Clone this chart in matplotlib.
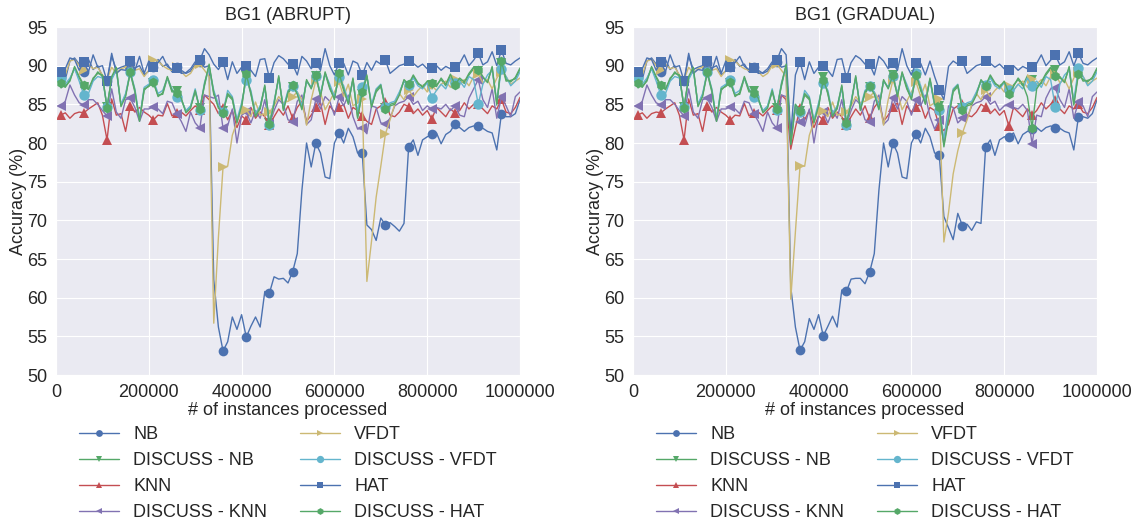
import matplotlib
matplotlib.use("Agg")
import matplotlib.pyplot as plt
import seaborn as sns

#-------------------#
# Data (accuracy %, one value every 10000 instances)
#-------------------#
instances = list(range(10000, 1000001, 10000))

# ---- BG1 (ABRUPT) ----
nb_a = [89.0, 88.2, 90.6, 91.0, 90.2, 89.2, 90.8, 89.5, 90.0, 88.6,
        88.0, 91.2, 89.5, 89.8, 90.0, 90.4, 89.7, 90.0, 88.8, 89.3,
        89.8, 90.8, 89.9, 90.2, 89.2, 89.8, 89.4, 89.0, 89.3, 90.2,
        90.5, 89.8, 90.0, 62.3, 56.2, 53.1, 54.3, 57.5, 55.9, 57.8,
        54.9, 56.3, 57.5, 56.2, 60.8, 60.6, 62.7, 62.4, 62.5, 61.9,
        63.35, 65.7, 73.9, 80.0, 76.9, 80.0, 78.7, 75.6, 75.4, 80.0,
        81.3, 80.0, 81.9, 80.8, 78.7, 78.7, 69.4, 68.8, 67.4, 70.3,
        69.4, 69.7, 69.2, 68.6, 69.6, 79.5, 80.4, 78.4, 80.4, 80.8,
        81.1, 81.3, 79.9, 81.1, 81.5, 82.5, 82.0, 81.5, 82.0, 82.2,
        82.2, 81.9, 81.5, 81.3, 79.1, 83.8, 83.4, 83.4, 83.8, 85.6]
dnb_a = [87.6, 87.2, 88.2, 89.7, 88.4, 87.3, 87.0, 88.2, 89.2, 88.6,
         84.7, 88.4, 89.6, 84.9, 86.2, 89.0, 86.6, 83.0, 86.8, 87.5,
         87.7, 86.2, 86.3, 88.4, 86.6, 86.7, 85.6, 84.1, 84.7, 86.6,
         84.5, 87.4, 90.0, 86.3, 84.7, 84.1, 86.2, 85.6, 82.8, 84.6,
         88.7, 86.3, 83.6, 84.4, 87.3, 82.6, 85.2, 88.5, 84.4, 86.4,
         87.3, 86.5, 84.5, 88.0, 87.2, 88.6, 86.2, 89.0, 87.0, 85.8,
         88.8, 86.8, 85.2, 88.2, 83.4, 86.4, 88.6, 84.8, 86.6, 87.3,
         84.5, 85.0, 85.2, 86.4, 88.0, 87.4, 88.6, 87.6, 87.4, 87.8,
         87.5, 87.5, 88.2, 87.4, 88.7, 87.7, 88.2, 87.7, 88.8, 89.6,
         89.3, 88.4, 88.0, 89.7, 85.1, 90.4, 88.0, 88.1, 88.3, 89.5]
knn_a = [83.6, 83.9, 83.2, 83.8, 84.0, 83.9, 84.4, 84.8, 85.2, 83.6,
         80.4, 85.7, 83.6, 83.8, 81.5, 84.8, 84.0, 84.6, 84.0, 83.6,
         83.0, 83.6, 83.5, 85.1, 83.5, 83.9, 84.0, 83.5, 84.2, 84.8,
         84.3, 86.2, 85.6, 85.0, 83.8, 84.5, 83.0, 84.2, 82.0, 83.5,
         83.0, 84.6, 83.2, 84.0, 83.4, 82.3, 83.4, 84.4, 83.6, 84.8,
         83.2, 84.6, 85.4, 82.8, 83.6, 84.6, 85.2, 82.4, 84.8, 84.0,
         84.6, 85.0, 83.2, 84.6, 84.2, 83.5, 82.8, 82.4, 84.4, 84.8,
         85.3, 83.6, 83.4, 84.0, 85.0, 84.7, 83.8, 84.4, 83.6, 84.2,
         83.1, 84.6, 84.0, 83.4, 84.4, 83.9, 84.2, 85.2, 84.4, 85.0,
         85.0, 84.4, 83.8, 84.8, 84.4, 85.65, 84.0, 83.8, 84.6, 85.9]
dknn_a = [84.8, 85.4, 87.5, 86.2, 85.2, 84.9, 85.6, 85.6, 85.0, 84.2,
          83.5, 87.0, 84.0, 83.2, 85.6, 85.8, 84.6, 82.8, 84.4, 84.4,
          84.7, 84.4, 83.8, 85.4, 85.2, 83.8, 82.8, 81.5, 84.0, 82.6,
          81.9, 86.2, 86.0, 85.8, 86.2, 81.9, 82.2, 84.4, 80.0, 83.6,
          84.0, 82.6, 84.2, 83.2, 85.6, 82.4, 84.2, 85.6, 85.0, 83.0,
          82.75, 85.4, 86.2, 82.4, 83.0, 85.65, 84.4, 86.0, 85.4, 83.6,
          85.9, 84.8, 86.2, 83.4, 81.8, 81.9, 81.2, 84.8, 84.6, 82.6,
          82.45, 83.2, 84.8, 85.2, 85.4, 86.0, 85.0, 85.4, 84.2, 84.8,
          84.35, 84.6, 84.4, 85.0, 84.2, 84.8, 83.6, 83.4, 85.8, 87.0,
          88.2, 85.6, 84.6, 87.0, 83.2, 85.9, 84.8, 83.4, 86.0, 86.6]
vfdt_a = [88.4, 88.8, 90.6, 90.8, 90.0, 89.4, 90.2, 89.6, 89.8, 88.8,
          88.2, 89.8, 89.0, 89.6, 89.8, 90.4, 89.4, 89.6, 88.6, 89.4,
          90.7, 90.6, 90.0, 89.6, 89.4, 89.8, 89.2, 88.6, 89.0, 90.0,
          90.2, 89.4, 88.6, 56.7, 67.8, 76.9, 77.0, 81.0, 82.75, 84.3,
          84.3, 83.4, 85.3, 83.6, 83.8, 84.0, 84.8, 86.0, 85.2, 85.4,
          86.0, 86.6, 85.6, 82.3, 85.6, 88.1, 86.6, 84.3, 85.4, 86.6,
          87.9, 86.0, 87.6, 84.8, 85.2, 85.7, 62.1, 67.3, 73.0, 77.0,
          81.2, 83.0, 85.0, 86.4, 85.6, 86.85, 86.0, 86.8, 87.4, 86.6,
          87.4, 86.8, 87.6, 88.0, 87.2, 88.3, 87.6, 88.2, 87.4, 88.6,
          88.9, 87.8, 88.2, 87.0, 88.4, 89.2, 88.6, 87.6, 88.0, 88.4]
dvfdt_a = [88.35, 87.6, 88.4, 89.6, 88.0, 86.2, 86.4, 88.0, 88.6, 88.4,
           84.7, 88.2, 89.4, 85.0, 86.4, 89.2, 87.0, 83.2, 87.2, 87.6,
           88.1, 86.4, 86.8, 88.4, 87.0, 86.0, 85.6, 84.2, 84.8, 87.0,
           84.3, 87.8, 89.8, 86.8, 85.0, 84.0, 86.8, 86.0, 83.0, 85.2,
           88.2, 86.8, 83.8, 84.8, 87.2, 82.3, 85.4, 88.4, 84.6, 86.8,
           87.4, 86.6, 84.8, 88.0, 87.2, 88.7, 86.4, 89.0, 87.6, 86.0,
           88.5, 87.4, 85.4, 88.2, 84.0, 87.3, 88.6, 85.0, 87.0, 87.6,
           84.6, 85.2, 85.4, 86.6, 88.0, 87.5, 88.4, 87.4, 87.0, 87.8,
           85.85, 86.8, 87.6, 87.0, 88.4, 87.7, 88.0, 87.2, 88.6, 88.2,
           85.0, 87.6, 88.8, 89.4, 85.4, 89.6, 88.6, 87.4, 88.0, 89.2]
hat_a = [89.2, 89.6, 91.0, 90.8, 89.4, 90.5, 89.2, 91.4, 89.8, 90.0,
         88.0, 91.6, 89.0, 89.5, 89.4, 90.6, 89.4, 91.2, 89.0, 90.6,
         89.8, 90.4, 91.2, 89.9, 89.5, 89.7, 89.0, 89.1, 89.6, 90.5,
         90.7, 92.2, 91.4, 90.2, 89.5, 90.5, 88.2, 90.5, 89.0, 89.8,
         90.0, 89.4, 88.6, 90.8, 90.9, 88.4, 90.4, 91.3, 90.9, 90.2,
         90.2, 88.8, 91.2, 90.6, 89.6, 90.4, 89.4, 92.2, 90.0, 88.8,
         90.4, 90.3, 88.8, 90.6, 90.3, 88.75, 90.4, 89.4, 90.6, 90.2,
         90.7, 89.0, 89.5, 90.0, 90.2, 90.6, 90.3, 89.8, 90.2, 89.6,
         89.7, 90.0, 89.4, 89.9, 89.6, 89.8, 90.3, 91.4, 90.0, 90.7,
         91.6, 90.1, 90.5, 91.8, 90.0, 92.0, 90.3, 90.1, 90.6, 91.0]
dhat_a = [87.8, 87.3, 88.0, 89.9, 88.6, 87.5, 86.9, 88.4, 89.0, 88.8,
          84.5, 88.6, 89.8, 84.7, 86.0, 89.2, 86.8, 82.8, 87.0, 87.3,
          87.9, 86.0, 86.5, 88.6, 86.8, 86.5, 85.8, 83.9, 84.5, 86.8,
          84.35, 87.6, 90.2, 86.5, 84.5, 83.9, 86.4, 85.8, 82.6, 84.8,
          88.9, 86.5, 83.4, 84.6, 87.5, 82.45, 85.0, 88.7, 84.2, 86.6,
          87.5, 86.3, 84.3, 88.2, 87.0, 88.8, 86.0, 89.2, 87.2, 85.6,
          89.0, 87.0, 85.0, 88.4, 83.2, 86.6, 88.8, 84.6, 86.8, 87.5,
          84.35, 84.8, 85.0, 86.2, 88.2, 87.6, 88.8, 87.8, 87.2, 88.0,
          87.7, 87.3, 88.4, 87.6, 88.9, 87.5, 88.4, 87.9, 89.0, 89.8,
          89.5, 88.6, 87.8, 89.9, 84.9, 90.6, 88.2, 87.9, 88.5, 89.7]

# ---- BG1 (GRADUAL) ----
nb_g = [89.0, 88.2, 90.6, 91.0, 90.2, 89.2, 90.8, 89.5, 90.0, 88.6,
        88.0, 91.2, 89.5, 89.8, 90.0, 90.4, 89.7, 90.0, 88.8, 89.3,
        89.8, 90.8, 89.9, 90.2, 89.2, 89.8, 89.4, 89.0, 89.3, 90.2,
        90.5, 89.8, 90.0, 61.4, 56.2, 53.2, 54.3, 57.3, 55.9, 57.8,
        55.05, 56.3, 57.6, 56.2, 61.0, 60.8, 62.4, 62.5, 62.5, 61.8,
        63.3, 65.7, 73.9, 80.0, 76.9, 80.0, 78.7, 75.6, 75.4, 80.0,
        81.2, 80.0, 81.9, 80.8, 78.7, 78.5, 70.5, 69.0, 67.5, 70.9,
        69.3, 69.5, 68.7, 69.8, 69.6, 79.5, 80.4, 78.4, 80.4, 80.8,
        80.8, 81.3, 79.9, 81.1, 81.5, 81.8, 82.0, 81.5, 82.0, 82.2,
        82.0, 81.9, 81.5, 81.3, 79.1, 83.4, 83.4, 83.2, 83.8, 85.6]
dnb_g = [87.6, 87.2, 88.2, 89.7, 88.4, 87.3, 87.0, 88.2, 89.2, 88.6,
         84.7, 88.4, 89.6, 84.9, 86.2, 89.0, 86.6, 83.0, 86.8, 87.5,
         87.7, 86.2, 86.3, 88.4, 86.6, 86.7, 85.6, 84.1, 84.7, 86.6,
         84.5, 87.4, 90.0, 79.8, 84.7, 84.1, 86.2, 85.6, 82.8, 84.6,
         88.5, 86.3, 83.6, 84.4, 87.3, 82.6, 85.2, 88.5, 84.4, 86.4,
         87.3, 86.5, 84.5, 88.0, 87.2, 88.8, 86.2, 89.0, 87.0, 85.8,
         88.8, 86.8, 85.2, 88.2, 85.0, 84.8, 79.8, 83.4, 86.6, 87.3,
         84.5, 85.0, 85.2, 86.4, 88.0, 87.4, 88.6, 87.6, 87.4, 87.8,
         86.6, 87.5, 88.2, 87.4, 88.7, 88.2, 87.4, 87.7, 88.8, 89.6,
         89.4, 88.4, 88.0, 89.7, 85.1, 89.2, 88.0, 88.1, 88.3, 89.5]
knn_g = [83.6, 83.9, 83.2, 83.8, 84.0, 83.9, 84.4, 84.8, 85.2, 83.6,
         80.4, 85.7, 83.6, 83.8, 81.5, 84.8, 84.0, 84.6, 84.0, 83.6,
         83.0, 83.6, 83.5, 85.1, 83.5, 83.9, 84.0, 83.5, 84.2, 84.8,
         84.3, 86.2, 85.6, 79.2, 82.0, 84.5, 83.0, 84.2, 82.0, 83.5,
         83.0, 84.6, 83.2, 84.0, 83.4, 82.3, 83.4, 84.4, 83.6, 84.8,
         83.2, 84.6, 85.4, 82.8, 83.6, 84.6, 85.2, 82.4, 84.8, 84.0,
         84.7, 85.0, 83.2, 84.6, 84.2, 82.2, 81.6, 82.4, 84.4, 84.8,
         85.0, 83.6, 83.4, 84.0, 85.0, 84.6, 83.8, 84.4, 83.6, 84.2,
         82.2, 84.6, 84.0, 83.4, 84.4, 83.6, 84.2, 85.2, 84.4, 85.0,
         85.6, 84.4, 83.8, 84.8, 84.4, 85.0, 84.0, 83.8, 84.6, 85.9]
dknn_g = [84.8, 85.4, 87.5, 86.2, 85.2, 84.9, 85.6, 85.6, 85.0, 84.2,
          83.5, 87.0, 84.0, 83.2, 85.6, 85.8, 84.6, 82.8, 84.4, 84.4,
          84.7, 84.4, 83.8, 85.4, 85.2, 83.8, 82.8, 81.5, 84.0, 82.6,
          81.9, 86.2, 86.0, 80.8, 84.6, 82.7, 82.2, 84.4, 80.0, 83.6,
          84.0, 82.6, 84.2, 83.2, 85.6, 82.4, 84.2, 85.6, 85.0, 83.0,
          82.75, 85.4, 86.2, 82.4, 83.0, 85.85, 84.4, 86.0, 85.4, 83.6,
          85.5, 84.8, 86.2, 83.4, 81.8, 83.0, 80.2, 84.8, 84.6, 82.6,
          83.2, 83.2, 84.8, 85.2, 85.4, 86.0, 85.0, 85.4, 84.2, 84.8,
          84.9, 84.6, 84.4, 85.0, 84.2, 79.9, 83.6, 83.4, 85.8, 87.0,
          87.1, 85.6, 84.6, 87.0, 83.2, 85.3, 84.8, 83.4, 86.0, 86.6]
vfdt_g = [88.4, 88.8, 90.6, 90.8, 90.0, 89.4, 90.2, 89.6, 89.8, 88.8,
          88.2, 89.8, 89.0, 89.6, 89.8, 90.4, 89.4, 89.6, 88.6, 89.4,
          90.7, 90.6, 90.0, 89.6, 89.4, 89.8, 89.2, 88.6, 89.0, 90.0,
          90.2, 89.4, 88.6, 59.8, 68.5, 77.05, 77.0, 81.0, 82.75, 84.3,
          84.2, 83.4, 85.3, 83.6, 83.8, 84.0, 84.8, 86.0, 85.2, 85.4,
          86.0, 86.6, 85.6, 82.3, 85.6, 88.1, 86.6, 84.3, 85.4, 86.6,
          87.9, 86.0, 87.6, 84.8, 85.2, 85.7, 67.2, 71.0, 76.0, 79.0,
          81.3, 83.0, 85.0, 86.4, 85.6, 86.8, 86.0, 86.8, 87.4, 86.6,
          87.4, 86.8, 87.6, 88.0, 87.2, 88.3, 87.6, 88.2, 87.4, 88.6,
          88.9, 87.8, 88.2, 87.0, 88.4, 89.2, 88.6, 87.6, 88.0, 88.4]
dvfdt_g = [88.35, 87.6, 88.4, 89.6, 88.0, 86.2, 86.4, 88.0, 88.6, 88.4,
           84.7, 88.2, 89.4, 85.0, 86.4, 89.2, 87.0, 83.2, 87.2, 87.6,
           88.1, 86.4, 86.8, 88.4, 87.0, 86.0, 85.6, 84.2, 84.8, 87.0,
           84.3, 87.8, 89.8, 80.5, 85.0, 84.0, 86.8, 86.0, 83.0, 85.2,
           87.8, 86.8, 83.8, 84.8, 87.2, 82.3, 85.4, 88.4, 84.6, 86.8,
           87.4, 86.6, 84.8, 88.0, 87.2, 88.7, 86.4, 89.0, 87.6, 86.0,
           89.1, 87.4, 85.4, 88.2, 84.8, 84.3, 80.5, 84.0, 87.0, 87.6,
           84.6, 85.2, 85.4, 86.6, 88.0, 87.5, 88.4, 87.4, 87.0, 87.8,
           86.9, 86.8, 87.6, 87.0, 88.4, 87.4, 88.0, 87.2, 88.6, 88.2,
           84.7, 87.6, 88.8, 89.4, 85.4, 89.7, 88.6, 87.4, 88.0, 89.2]
hat_g = [89.2, 89.6, 91.0, 90.8, 89.4, 90.5, 89.2, 91.4, 89.8, 90.0,
         88.0, 91.6, 89.0, 89.5, 89.4, 90.6, 89.4, 91.2, 89.0, 90.6,
         89.8, 90.4, 91.2, 89.9, 89.5, 89.7, 89.0, 89.1, 89.6, 90.5,
         90.7, 92.2, 91.4, 81.0, 88.8, 90.5, 88.2, 90.5, 89.0, 89.8,
         90.0, 89.4, 88.6, 90.8, 90.9, 88.4, 90.4, 91.3, 90.9, 90.2,
         90.2, 88.8, 91.2, 90.6, 89.6, 90.3, 89.4, 92.2, 90.0, 88.8,
         90.4, 90.3, 88.8, 90.6, 88.6, 86.9, 85.6, 89.9, 90.6, 90.2,
         90.6, 89.0, 89.5, 90.0, 90.2, 90.6, 90.3, 89.8, 90.2, 89.6,
         89.4, 90.0, 89.4, 89.9, 89.6, 89.8, 90.3, 91.4, 90.0, 90.7,
         91.4, 90.1, 90.5, 91.8, 90.0, 91.6, 90.3, 90.1, 90.6, 91.0]
dhat_g = [87.8, 87.3, 88.0, 89.9, 88.6, 87.5, 86.9, 88.4, 89.0, 88.8,
          84.5, 88.6, 89.8, 84.7, 86.0, 89.2, 86.8, 82.8, 87.0, 87.3,
          87.9, 86.0, 86.5, 88.6, 86.8, 86.5, 85.8, 83.9, 84.5, 86.8,
          84.35, 87.6, 90.2, 79.8, 85.0, 84.2, 86.4, 85.8, 82.6, 84.8,
          88.2, 86.5, 83.4, 84.6, 87.5, 82.6, 85.0, 88.7, 84.2, 86.6,
          87.4, 86.3, 84.3, 88.2, 87.0, 88.8, 86.0, 89.2, 87.2, 85.6,
          88.8, 87.0, 85.0, 88.4, 85.0, 84.6, 79.5, 83.0, 86.8, 87.5,
          84.3, 84.8, 85.0, 86.2, 88.2, 87.4, 88.8, 87.8, 87.2, 88.0,
          86.4, 87.3, 88.4, 87.6, 86.0, 82.0, 87.0, 87.9, 89.0, 89.8,
          88.6, 88.6, 87.8, 89.9, 84.9, 88.9, 88.2, 87.9, 88.5, 89.7]

labels = ["NB", "DISCUSS - NB", "KNN", "DISCUSS - KNN",
          "VFDT", "DISCUSS - VFDT", "HAT", "DISCUSS - HAT"]
abrupt = [nb_a, dnb_a, knn_a, dknn_a, vfdt_a, dvfdt_a, hat_a, dhat_a]
gradual = [nb_g, dnb_g, knn_g, dknn_g, vfdt_g, dvfdt_g, hat_g, dhat_g]

#-------------------#
# Styles
#-------------------#
blue, green, red, purple, yellow, cyan = ("#4C72B0", "#55A868", "#C44E52",
                                          "#8172B2", "#CCB974", "#64B5CD")
colors = [blue, green, red, purple, yellow, cyan, blue, green]
markers = ["o", "v", "^", "<", ">", "o", "s", "h"]
sizes = [7, 7, 7, 7, 7, 7.5, 7, 7]

sns.set_style("darkgrid")
plt.rcParams['font.family'] = ['Liberation Sans', 'DejaVu Sans']
plt.rcParams['font.size'] = 13

fig = plt.figure(figsize=(11.37, 5.25), dpi=100)
ax_l = fig.add_axes([56/1137., 1-375/525., 464/1137., 348/525.])
ax_r = fig.add_axes([633/1137., 1-375/525., 464/1137., 348/525.])

def draw(ax, series, title):
	for y, lab, c, m, s in zip(series, labels, colors, markers, sizes):
		ax.plot(instances, y, color=c, marker=m, markevery=5, markersize=s,
				markeredgewidth=0, lw=1.0, label=lab)
	ax.set_xlim(0, 1000000)
	ax.set_ylim(50, 95)
	ax.set_xticks(range(0, 1000001, 200000))
	ax.set_yticks(range(50, 96, 5))
	ax.ticklabel_format(style='plain', axis='x', useOffset=False)
	ax.tick_params(labelsize=13, pad=3)
	ax.set_xlabel("# of instances processed", fontsize=13, labelpad=1)
	ax.set_ylabel("Accuracy (%)", fontsize=13, labelpad=0)
	ax.set_title(title, fontsize=13, pad=5)
	ax.legend(loc='upper center', bbox_to_anchor=(0.5, -0.1), ncol=2,
			  frameon=False, fontsize=13, markerscale=0.7, handlelength=2.2,
			  columnspacing=1.8, labelspacing=0.5)

draw(ax_l, abrupt, "BG1 (ABRUPT)")
draw(ax_r, gradual, "BG1 (GRADUAL)")

fig.savefig("out.png", dpi=100)
